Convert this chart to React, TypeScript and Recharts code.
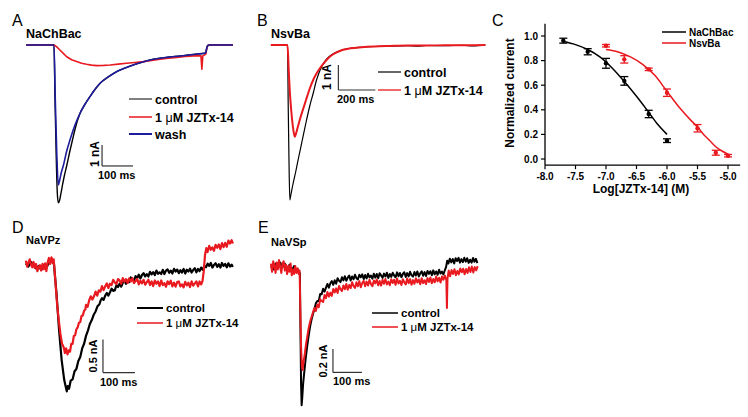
import React from 'react';
import { LineChart, Line, XAxis, YAxis, ReferenceLine, ComposedChart, Scatter, ErrorBar } from 'recharts';

type Pt = [number, number];

// ---------- Panel A: NaChBac (time ms, current nA) ----------
const A_CONTROL: Pt[] = [[-90,0],[-45,0],[0,0],[3,-2.4],[7,-5.2],[10.5,-7.0],[14,-7.52],[18,-7.4],[22,-7.1],[27,-6.7],[33,-6.25],[41,-5.75],[52,-5.0],[60,-4.5],[68,-4.0],[84,-3.25],[100,-2.82],[116,-2.46],[132,-2.12],[148,-1.83],[175,-1.52],[202,-1.27],[229,-1.1],[256,-0.95],[283,-0.82],[310,-0.71],[337,-0.64],[364,-0.59],[390,-0.55],[417,-0.51],[446,-0.46],[476,-0.41],[489,-0.38],[492,-0.2],[495,-0.05],[500,0],[540,0],[577,0]];
const A_TOXIN: Pt[] = [[-90,0],[-45,0],[0,0],[8,-0.08],[19,-0.24],[30,-0.4],[41,-0.56],[57,-0.7],[73,-0.79],[89,-0.87],[105,-0.92],[121,-0.96],[138,-0.98],[160,-0.97],[181,-0.95],[207,-0.91],[234,-0.87],[261,-0.83],[288,-0.79],[315,-0.74],[342,-0.68],[369,-0.63],[396,-0.59],[423,-0.55],[450,-0.52],[474,-0.51],[477,-1.15],[480,-0.52],[486,-0.47],[490,-0.42],[493,-0.15],[496,-0.03],[500,0],[540,0],[577,0]];
const A_WASH: Pt[] = [[-90,0],[-45,0],[0,0],[4,-2.5],[9,-5.2],[14,-6.67],[18,-6.45],[24,-6.05],[30,-5.75],[41,-5.05],[52,-4.5],[68,-3.8],[84,-3.25],[100,-2.82],[116,-2.46],[132,-2.12],[148,-1.83],[175,-1.52],[202,-1.27],[229,-1.1],[256,-0.95],[283,-0.82],[310,-0.71],[337,-0.64],[364,-0.59],[390,-0.55],[417,-0.51],[446,-0.46],[476,-0.41],[489,-0.38],[492,-0.2],[495,-0.05],[500,0],[540,0],[577,0]];

// ---------- Panel B: NsvBa ----------
const B_CONTROL: Pt[] = [[-90,0],[-45,0],[0,0],[4,-2.5],[8,-4.6],[12.6,-6.2],[18,-6.0],[30,-5.55],[45,-5.05],[60,-4.5],[80,-3.8],[100,-3.1],[120,-2.45],[140,-1.9],[155,-1.45],[170,-1.12],[185,-0.86],[200,-0.67],[220,-0.5],[245,-0.36],[270,-0.27],[300,-0.19],[340,-0.13],[400,-0.09],[470,-0.06],[550,-0.05],[650,-0.03],[700,-0.05],[750,-0.02],[850,-0.03],[950,-0.01],[1000,-0.04],[1070,0]];
const B_TOXIN: Pt[] = [[-90,0],[-45,0],[0,0],[6,-0.9],[12,-1.8],[20,-2.6],[28,-3.2],[35,-3.55],[40,-3.67],[47,-3.52],[55,-3.3],[70,-2.9],[85,-2.55],[100,-2.2],[120,-1.75],[140,-1.38],[160,-1.1],[180,-0.88],[200,-0.7],[220,-0.53],[245,-0.38],[270,-0.28],[300,-0.19],[340,-0.13],[400,-0.09],[470,-0.06],[550,-0.04],[650,-0.02],[750,-0.02],[850,-0.01],[950,-0.01],[1070,0]];

// ---------- Panel C: dose response ----------
const C_TICKS_X = [-8, -7.5, -7, -6.5, -6, -5.5, -5];
const C_TICKS_Y = [0, 0.2, 0.4, 0.6, 0.8, 1.0];
const C_NACHBAC_LOG = [-7.7, -7.3, -7.0, -6.7, -6.3, -6.0];
const C_NACHBAC_MEAN = [0.962, 0.872, 0.778, 0.635, 0.366, 0.149];
const C_NACHBAC_SEM = [0.02, 0.025, 0.04, 0.035, 0.03, 0.015];
const C_NSVBA_LOG = [-7.0, -6.7, -6.3, -6.0, -5.5, -5.2, -5.0];
const C_NSVBA_MEAN = [0.921, 0.81, 0.729, 0.539, 0.25, 0.051, 0.027];
const C_NSVBA_SEM = [0.01, 0.03, 0.01, 0.03, 0.03, 0.02, 0.01];
const C_NACHBAC_FIT: Pt[] = [[-7.7,0.955],[-7.5,0.93],[-7.3,0.89],[-7.1,0.83],[-6.9,0.74],[-6.7,0.63],[-6.5,0.51],[-6.3,0.38],[-6.15,0.28],[-6.0,0.2]];
const C_NSVBA_FIT: Pt[] = [[-7.0,0.89],[-6.8,0.87],[-6.6,0.83],[-6.4,0.77],[-6.2,0.68],[-6.0,0.55],[-5.8,0.42],[-5.6,0.31],[-5.5,0.26],[-5.4,0.2],[-5.3,0.15],[-5.2,0.1],[-5.1,0.065],[-5.0,0.04]];

// ---------- Panel D: NaVPz ----------
const D_CONTROL: Pt[] = [[-88,0.02],[-80,-0.03],[-72,0.04],[-64,-0.01],[-56,-0.06],[-48,-0.02],[-40,-0.08],[-32,-0.03],[-24,-0.05],[-16,0.03],[-8,0.06],[-2,0.02],[0,0],[8,-0.45],[16,-1.0],[24,-1.45],[32,-1.75],[37,-1.86],[40,-1.92],[43,-1.84],[47,-1.88],[52,-1.76],[58,-1.74],[64,-1.62],[70,-1.58],[76,-1.46],[82,-1.4],[88,-1.27],[94,-1.2],[100,-1.08],[106,-1.0],[112,-0.9],[118,-0.84],[124,-0.76],[130,-0.71],[136,-0.63],[142,-0.6],[146,-0.54],
[150,-0.51],[155,-0.535],[160,-0.47],[165,-0.43],[170,-0.47],[175,-0.42],[180,-0.365],[185,-0.4],[190,-0.39],[195,-0.315],[200,-0.34],[205,-0.29],[210,-0.335],[215,-0.275],[220,-0.24],[225,-0.29],[230,-0.245],[235,-0.265],[240,-0.195],[245,-0.23],[250,-0.24],[255,-0.175],[260,-0.205],[265,-0.153],[270,-0.21],[275,-0.158],[280,-0.13],[285,-0.18],[290,-0.145],[295,-0.18],[300,-0.11],[305,-0.147],[310,-0.113],[315,-0.159],[320,-0.09],[325,-0.14],[330,-0.117],[335,-0.144],[340,-0.08],[345,-0.143],[350,-0.09],[355,-0.072],[360,-0.125],[365,-0.09],[370,-0.135],[375,-0.065],[380,-0.105],[385,-0.075],[390,-0.13],[395,-0.085],[400,-0.12],[405,-0.065],[410,-0.135],[415,-0.078],[420,-0.105],[425,-0.063],[430,-0.12],[435,-0.083],[440,-0.055],[445,-0.118],[450,-0.065],[455,-0.098],[460,-0.045],[465,-0.08],[470,-0.02],[475,-0.04],[480,0.015],[485,-0.02],[490,0.025],[495,-0.045],[500,-0.005],[505,0.02],[510,-0.035],[515,0.005],[520,-0.045],[525,0.025],[530,-0.02],[535,0.01],[540,-0.04],[545,0.02],[550,-0.03],[555,0.0],[559,-0.035]];
const D_TOXIN: Pt[] = [[-88,0.06],[-84,-0.03],[-80,0.03],[-76,0.08],[-72,0.0],[-68,-0.04],[-64,0.04],[-60,-0.05],[-56,0.01],[-52,-0.1],[-48,-0.04],[-44,-0.01],[-40,-0.09],[-36,0.01],[-32,-0.07],[-28,0.02],[-24,-0.1],[-20,0.03],[-16,0.1],[-12,0.01],[-8,0.11],[-4,0.03],[-1,0.08],[0,0.02],[5,-0.3],[10,-0.62],[15,-0.85],[20,-1.05],[25,-1.2],[30,-1.25],[34,-1.34],[38,-1.27],[42,-1.36],[46,-1.3],[50,-1.32],[54,-1.2],[58,-1.2],[62,-1.08],[66,-1.07],[70,-0.98],[74,-0.95],[78,-0.88],[82,-0.87],[86,-0.78],[90,-0.77],[94,-0.7],[98,-0.68],
[100,-0.61],[105,-0.64],[110,-0.54],[115,-0.48],[120,-0.53],[125,-0.48],[130,-0.41],[135,-0.47],[140,-0.39],[145,-0.41],[150,-0.325],[155,-0.385],[160,-0.33],[165,-0.285],[170,-0.355],[175,-0.29],[180,-0.31],[185,-0.23],[190,-0.27],[195,-0.295],[200,-0.22],[205,-0.24],[210,-0.29],[215,-0.205],[220,-0.26],[225,-0.22],[230,-0.28],[235,-0.21],[240,-0.255],[245,-0.205],[250,-0.28],[255,-0.25],[260,-0.215],[265,-0.3],[270,-0.245],[275,-0.285],[280,-0.23],[285,-0.305],[290,-0.265],[295,-0.23],[300,-0.31],[305,-0.255],[310,-0.325],[315,-0.24],[320,-0.29],[325,-0.255],[330,-0.325],[335,-0.24],[340,-0.31],[345,-0.28],[350,-0.335],[355,-0.255],[360,-0.295],[365,-0.245],[370,-0.33],[375,-0.275],[380,-0.335],[385,-0.265],[390,-0.255],[395,-0.33],[400,-0.3],[405,-0.345],[410,-0.26],[415,-0.315],[420,-0.275],[425,-0.34],[430,-0.255],[435,-0.32],[440,-0.285],[445,-0.255],[450,-0.33],[455,-0.255],[460,-0.3],[464,-0.25],[468,-0.1],[472,0.15],[476,0.25],[480,0.19],[485,0.285],[490,0.225],[495,0.26],[500,0.21],[505,0.3],[510,0.255],[515,0.305],[520,0.235],[525,0.325],[530,0.265],[535,0.33],[540,0.27],[545,0.365],[550,0.32],[555,0.37],[559,0.32]];

// ---------- Panel E: NaVSp ----------
const E_CONTROL: Pt[] = [[-100,0.01],[-92,-0.02],[-84,0.03],[-76,-0.01],[-68,0.04],[-60,0.0],[-52,0.03],[-44,-0.02],[-36,0.02],[-28,-0.03],[-20,0.01],[-12,-0.04],[-6,-0.02],[-2,-0.05],[0,-0.05],[2,-0.55],[4,-1.0],[6,-1.18],[8,-1.12],[11,-1.0],[15,-0.9],[20,-0.78],[25,-0.68],[30,-0.59],[35,-0.51],[40,-0.45],[45,-0.4],[50,-0.36],[55,-0.31],
[60,-0.29],[65,-0.29],[70,-0.23],[75,-0.232],[80,-0.185],[85,-0.21],[90,-0.175],[95,-0.144],[100,-0.176],[105,-0.138],[110,-0.12],[115,-0.151],[120,-0.113],[125,-0.142],[130,-0.095],[135,-0.117],[140,-0.128],[145,-0.087],[150,-0.114],[155,-0.078],[160,-0.117],[165,-0.09],[170,-0.073],[175,-0.114],[180,-0.08],[185,-0.104],[190,-0.066],[195,-0.095],[200,-0.105],[205,-0.066],[210,-0.087],[215,-0.062],[220,-0.102],[225,-0.068],[230,-0.097],[235,-0.057],[240,-0.088],[245,-0.073],[250,-0.099],[255,-0.057],[260,-0.09],[265,-0.059],[270,-0.094],[275,-0.052],[280,-0.071],[285,-0.092],[290,-0.056],[295,-0.081],[300,-0.048],[305,-0.092],[310,-0.059],[315,-0.084],[320,-0.048],[325,-0.072],[330,-0.087],[335,-0.045],[340,-0.078],[345,-0.05],[350,-0.087],[355,-0.059],[360,-0.044],[365,-0.084],[370,-0.051],[375,-0.079],[380,-0.04],[385,-0.07],[390,-0.081],[395,-0.042],[400,-0.072],[405,-0.037],[410,-0.081],[415,-0.054],[420,-0.037],[425,-0.074],[430,-0.043],[435,-0.076],[440,-0.033],[445,-0.058],[450,-0.035],[455,-0.07],[460,-0.028],[465,-0.062],[470,-0.037],[475,-0.066],[480,-0.023],[485,-0.055],[490,-0.039],[495,-0.063],[500,-0.025],[504,0.0],[508,0.055],[512,0.03],[517,0.072],[522,0.04],[527,0.069],[532,0.032],[537,0.075],[542,0.052],[547,0.079],[552,0.038],[557,0.068],[562,0.042],[567,0.08],[572,0.046],[577,0.076],[582,0.036],[587,0.063],[592,0.038],[597,0.078],[602,0.045],[607,0.071],[612,0.034]];
const E_TOXIN: Pt[] = [[-100,0.03],[-96,-0.04],[-92,0.05],[-88,0.01],[-84,-0.05],[-80,0.04],[-76,-0.02],[-72,0.06],[-68,0.0],[-64,-0.05],[-60,0.03],[-56,0.05],[-52,-0.03],[-48,0.02],[-44,-0.06],[-40,0.01],[-36,-0.04],[-32,0.03],[-28,-0.07],[-24,-0.02],[-20,-0.06],[-16,0.01],[-12,-0.05],[-8,-0.01],[-4,-0.06],[-1,-0.03],[1,-0.3],[4,-0.68],[7,-0.85],[9.5,-0.88],[12,-0.82],[17,-0.74],[21,-0.66],[25,-0.6],[29,-0.54],[33,-0.49],[37,-0.45],[41,-0.42],[46,-0.38],
[50,-0.35],[55,-0.375],[60,-0.32],[65,-0.343],[70,-0.275],[75,-0.29],[80,-0.298],[85,-0.238],[90,-0.265],[95,-0.213],[100,-0.252],[105,-0.219],[110,-0.246],[115,-0.187],[120,-0.217],[125,-0.182],[130,-0.221],[135,-0.162],[140,-0.189],[145,-0.205],[150,-0.157],[155,-0.189],[160,-0.144],[165,-0.194],[170,-0.153],[175,-0.18],[180,-0.129],[185,-0.162],[190,-0.178],[195,-0.13],[200,-0.164],[205,-0.12],[210,-0.172],[215,-0.136],[220,-0.118],[225,-0.163],[230,-0.124],[235,-0.157],[240,-0.108],[245,-0.146],[250,-0.163],[255,-0.114],[260,-0.139],[265,-0.106],[270,-0.156],[275,-0.119],[280,-0.158],[285,-0.108],[290,-0.143],[295,-0.101],[300,-0.148],[305,-0.124],[310,-0.155],[315,-0.103],[320,-0.136],[325,-0.108],[330,-0.152],[335,-0.097],[340,-0.141],[345,-0.117],[350,-0.153],[355,-0.103],[360,-0.13],[365,-0.148],[370,-0.098],[375,-0.138],[380,-0.103],[385,-0.151],[390,-0.111],[395,-0.143],[400,-0.095],[405,-0.132],[410,-0.106],[415,-0.147],[420,-0.096],[425,-0.137],[430,-0.112],[435,-0.145],[440,-0.094],[445,-0.127],[450,-0.089],[455,-0.137],[460,-0.102],[465,-0.13],[470,-0.08],[475,-0.122],[480,-0.091],[485,-0.131],[490,-0.08],[495,-0.108],[500,-0.073],[505,-0.11],[507,-0.35],[509,-0.1],[513,-0.03],[518,-0.078],[523,-0.026],[528,-0.059],[533,-0.018],[538,-0.069],[543,-0.033],[548,-0.062],[553,-0.012],[558,-0.044],[563,-0.014],[568,-0.062],[573,-0.016],[578,-0.05],[583,-0.002],[588,-0.042],[593,0.004],[598,-0.046],[603,0.0],[608,-0.028],[613,0.008]];

// ---------- styling ----------
const FONT = '"Liberation Sans", Arial, Helvetica, sans-serif';
const RED = '#e8191f';
const BLUE = '#1c1c9c';
const BAR = '#333';

const toData = (pts: Pt[]) => pts.map(([t, v]) => ({ t, v }));

interface Series { key: string; pts: Pt[]; color: string; width: number; curve: 'monotone' | 'linear' }
interface ScaleBar { t: number; v: number; dt: number; dv: number }

function TracePanel(props: { left: number; top: number; width: number; height: number; xDomain: [number, number]; yDomain: [number, number]; series: Series[]; bar: ScaleBar }) {
  const { left, top, width, height, xDomain, yDomain, series, bar } = props;
  const vb = bar.v - bar.dv;
  return (
    <div style={{ position: 'absolute', left, top }}>
      <LineChart width={width} height={height} margin={{ top: 0, right: 0, bottom: 0, left: 0 }}>
        <XAxis type="number" dataKey="t" domain={xDomain} allowDataOverflow hide />
        <YAxis type="number" dataKey="v" domain={yDomain} allowDataOverflow hide />
        {series.map((s) => (
          <Line key={s.key} data={toData(s.pts)} dataKey="v" type={s.curve} stroke={s.color} strokeWidth={s.width} strokeLinejoin="round" dot={false} activeDot={false} isAnimationActive={false} />
        ))}
        <ReferenceLine segment={[{ x: bar.t, y: bar.v }, { x: bar.t, y: vb }]} stroke={BAR} strokeWidth={1.2} ifOverflow="visible" />
        <ReferenceLine segment={[{ x: bar.t, y: vb }, { x: bar.t + bar.dt, y: vb }]} stroke={BAR} strokeWidth={1.2} ifOverflow="visible" />
      </LineChart>
    </div>
  );
}

const nachbacPts = C_NACHBAC_LOG.map((x, i) => ({ x, y: C_NACHBAC_MEAN[i], err: C_NACHBAC_SEM[i] }));
const nsvbaPts = C_NSVBA_LOG.map((x, i) => ({ x, y: C_NSVBA_MEAN[i], err: C_NSVBA_SEM[i] }));
const fitData = (pts: Pt[]) => pts.map(([x, y]) => ({ x, y }));

function Txt(p: { x: number; y: number; size: number; bold?: boolean; anchor?: 'start' | 'middle' | 'end'; children: React.ReactNode }) {
  return (
    <text x={p.x} y={p.y} fontSize={p.size} fontWeight={p.bold ? 'bold' : 'normal'} textAnchor={p.anchor || 'start'} fontFamily={FONT} fill="#000">
      {p.children}
    </text>
  );
}
function VTxt(p: { x: number; y: number; size: number; children: React.ReactNode }) {
  return (
    <text transform={`translate(${p.x},${p.y}) rotate(-90)`} fontSize={p.size} fontWeight="bold" textAnchor="middle" dominantBaseline="central" fontFamily={FONT} fill="#000">
      {p.children}
    </text>
  );
}
const Toxin = () => (<>{'1 '}<tspan fontWeight="normal">μ</tspan>{'M JZTx-14'}</>);

function LegendRow(p: { x1: number; x2: number; y: number; color: string; w: number; size: number; children: React.ReactNode }) {
  return (
    <g>
      <line x1={p.x1} x2={p.x2} y1={p.y} y2={p.y} stroke={p.color} strokeWidth={p.w} />
      <Txt x={p.x2 + 3} y={p.y + p.size * 0.36} size={p.size} bold>{p.children}</Txt>
    </g>
  );
}

export default function App() {
  return (
    <div style={{ position: 'absolute', left: 0, top: 0, width: 748, height: 417, background: '#fff', overflow: 'hidden' }}>
      <TracePanel left={23} top={24} width={217} height={189} xDomain={[-100, 600]} yDomain={[-8, 1]}
        series={[
          { key: 'control', pts: A_CONTROL, color: '#000', width: 1.4, curve: 'monotone' },
          { key: 'toxin', pts: A_TOXIN, color: RED, width: 1.6, curve: 'linear' },
          { key: 'wash', pts: A_WASH, color: BLUE, width: 1.6, curve: 'monotone' },
        ]}
        bar={{ t: 155, v: -4.76, dt: 100, dv: 1 }} />
      <TracePanel left={268.5} top={25} width={222} height={190} xDomain={[-100, 1100]} yDomain={[-6.8, 0.8]}
        series={[
          { key: 'control', pts: B_CONTROL, color: '#000', width: 1.2, curve: 'monotone' },
          { key: 'toxin', pts: B_TOXIN, color: RED, width: 2, curve: 'monotone' },
        ]}
        bar={{ t: 275, v: -0.8, dt: 200, dv: 1 }} />
      <TracePanel left={22} top={225.4} width={224} height={178.2} xDomain={[-100, 600]} yDomain={[-2.1, 0.6]}
        series={[
          { key: 'control', pts: D_CONTROL, color: '#000', width: 2.2, curve: 'linear' },
          { key: 'toxin', pts: D_TOXIN, color: RED, width: 2.2, curve: 'linear' },
        ]}
        bar={{ t: 153, v: -1.136, dt: 100, dv: 0.5 }} />
      <TracePanel left={268.1} top={231.9} width={211.7} height={181.35} xDomain={[-110, 620]} yDomain={[-1.25, 0.3]}
        series={[
          { key: 'control', pts: E_CONTROL, color: '#000', width: 2, curve: 'linear' },
          { key: 'toxin', pts: E_TOXIN, color: RED, width: 2, curve: 'linear' },
        ]}
        bar={{ t: 114, v: -0.7, dt: 100, dv: 0.2 }} />

      <div style={{ position: 'absolute', left: 490, top: 0 }}>
        <ComposedChart width={258} height={200} margin={{ top: 23.7, right: 7.8, bottom: 4.85, left: 5 }}>
          <XAxis type="number" dataKey="x" domain={[-8, -4.8]} ticks={C_TICKS_X} allowDataOverflow height={30}
            tickFormatter={(v: number) => v.toFixed(1)} tickSize={4} tickMargin={4}
            tick={{ fontSize: 10, fontWeight: 'bold', fill: '#000', fontFamily: FONT }}
            axisLine={{ stroke: '#000', strokeWidth: 1.3 }} tickLine={{ stroke: '#000', strokeWidth: 1.2 }} />
          <YAxis type="number" dataKey="y" domain={[-0.05, 1.1]} ticks={C_TICKS_Y} allowDataOverflow width={50}
            tickFormatter={(v: number) => v.toFixed(1)} tickSize={4} tickMargin={3}
            tick={{ fontSize: 10, fontWeight: 'bold', fill: '#000', fontFamily: FONT }}
            axisLine={{ stroke: '#000', strokeWidth: 1.3 }} tickLine={{ stroke: '#000', strokeWidth: 1.2 }} />
          <Line data={fitData(C_NACHBAC_FIT)} dataKey="y" type="monotone" stroke="#000" strokeWidth={1.5} dot={false} activeDot={false} isAnimationActive={false} />
          <Line data={fitData(C_NSVBA_FIT)} dataKey="y" type="monotone" stroke={RED} strokeWidth={1.5} dot={false} activeDot={false} isAnimationActive={false} />
          <Scatter data={nachbacPts} dataKey="y" fill="#000" isAnimationActive={false}
            shape={(p: any) => <circle cx={p.cx} cy={p.cy} r={2.2} fill="#000" />}>
            <ErrorBar dataKey="err" direction="y" width={4} stroke="#000" strokeWidth={1.3} />
          </Scatter>
          <Scatter data={nsvbaPts} dataKey="y" fill={RED} isAnimationActive={false}
            shape={(p: any) => <circle cx={p.cx} cy={p.cy} r={2.2} fill={RED} />}>
            <ErrorBar dataKey="err" direction="y" width={4} stroke={RED} strokeWidth={1.3} />
          </Scatter>
        </ComposedChart>
      </div>

      <svg width={748} height={417} style={{ position: 'absolute', left: 0, top: 0, pointerEvents: 'none' }}>
        <Txt x={12} y={26} size={16}>A</Txt>
        <Txt x={257} y={26} size={16}>B</Txt>
        <Txt x={492} y={26} size={16}>C</Txt>
        <Txt x={12} y={233} size={16}>D</Txt>
        <Txt x={258} y={233} size={16}>E</Txt>
        <Txt x={26} y={38} size={12.5} bold>NaChBac</Txt>
        <Txt x={271} y={38} size={12.5} bold>NsvBa</Txt>
        <Txt x={26} y={244} size={11} bold>NaVPz</Txt>
        <Txt x={271} y={246} size={11} bold>NaVSp</Txt>

        <LegendRow x1={129} x2={152} y={99} color="#000" w={1} size={12.5}>control</LegendRow>
        <LegendRow x1={129} x2={152} y={117} color={RED} w={1.5} size={12.5}><Toxin /></LegendRow>
        <LegendRow x1={129} x2={152} y={134} color={BLUE} w={2} size={12.5}>wash</LegendRow>
        <VTxt x={95} y={154} size={12}>1 nA</VTxt>
        <Txt x={98} y={179} size={11} bold>100 ms</Txt>

        <LegendRow x1={378} x2={401} y={72} color="#000" w={1.2} size={12.5}>control</LegendRow>
        <LegendRow x1={378} x2={401} y={90} color="#f06a6a" w={2} size={12.5}><Toxin /></LegendRow>
        <VTxt x={327} y={77} size={12}>1 nA</VTxt>
        <Txt x={337} y={103} size={11} bold>200 ms</Txt>

        <LegendRow x1={662} x2={686} y={32} color="#000" w={1.5} size={10}>NaChBac</LegendRow>
        <LegendRow x1={662} x2={686} y={43} color={RED} w={1.5} size={10}>NsvBa</LegendRow>
        <VTxt x={510} y={93} size={12}>Normalized current</VTxt>
        <Txt x={641} y={193} size={12} bold anchor="middle">Log[JZTx-14] (M)</Txt>

        <LegendRow x1={137} x2={163} y={308} color="#000" w={2} size={11.5}>control</LegendRow>
        <LegendRow x1={137} x2={163} y={323} color={RED} w={1.5} size={11.5}><Toxin /></LegendRow>
        <VTxt x={93} y={356} size={11}>0.5 nA</VTxt>
        <Txt x={100} y={386} size={11} bold>100 ms</Txt>

        <LegendRow x1={372} x2={398} y={313} color="#000" w={1.5} size={11.5}>control</LegendRow>
        <LegendRow x1={372} x2={398} y={327} color={RED} w={1.5} size={11.5}><Toxin /></LegendRow>
        <VTxt x={323} y={361} size={11}>0.2 nA</VTxt>
        <Txt x={333} y={385} size={11} bold>100 ms</Txt>
      </svg>
    </div>
  );
}
